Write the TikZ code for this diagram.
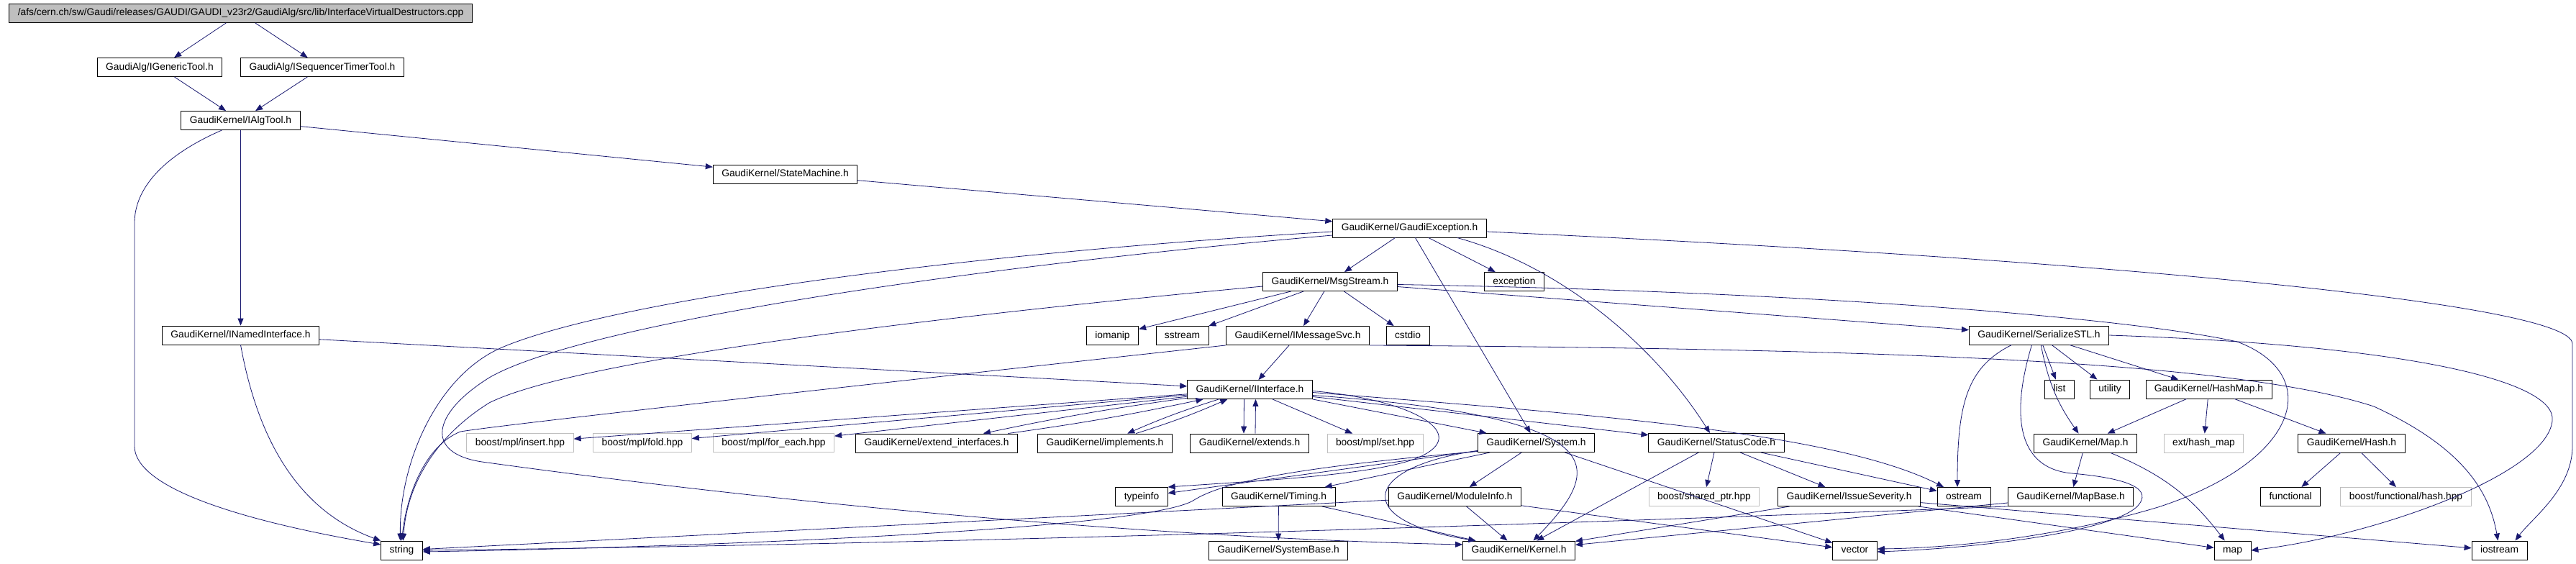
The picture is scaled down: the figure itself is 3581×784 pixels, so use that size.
\documentclass[tikz,border=0pt]{standalone}
\usepackage{fontspec}
\setmainfont{Liberation Sans}
\usetikzlibrary{arrows.meta}
\definecolor{edgeblue}{HTML}{191970}
\definecolor{rootgray}{HTML}{BFBFBF}
\definecolor{extgray}{HTML}{BFBFBF}
\begin{document}
\begin{tikzpicture}[x=1pt,y=-1pt]
        \tikzstyle{file} = [rectangle, draw=black, fill=white, line width=.9pt, inner xsep=12pt, inner ysep=0pt, minimum height=26pt, text=black, text centered, font=\fontsize{13.8}{16}\selectfont, text height=10pt, text depth=3pt]
        \tikzstyle{sys} = [file, draw=extgray]
        \tikzstyle{line} = [-{Triangle[length=10pt,width=8pt]}, draw=edgeblue, line width=.8pt]
        \path[use as bounding box, fill=white] (0,0) rectangle (3581,784);
        % top of the include tree
        \node[file,fill=rootgray] (root) at (334.5,18.5) {/afs/cern.ch/sw/Gaudi/releases/GAUDI/GAUDI\_v23r2/GaudiAlg/src/lib/InterfaceVirtualDestructors.cpp};
        \node[file] (generictool) at (222,93.5) {GaudiAlg/IGenericTool.h};
        \node[file] (seqtimer) at (448,93.5) {GaudiAlg/ISequencerTimerTool.h};
        \node[file] (ialgtool) at (334.5,167.5) {GaudiKernel/IAlgTool.h};
        \node[file] (statemachine) at (1091.5,242) {GaudiKernel/StateMachine.h};
        \node[file] (gaudiexc) at (1959.5,317) {GaudiKernel/GaudiException.h};
        \node[file] (msgstream) at (1849,391.5) {GaudiKernel/MsgStream.h};
        \node[file] (exception) at (2105,391.5) {exception};
        \node[file] (namedif) at (334.5,466) {GaudiKernel/INamedInterface.h};
        \node[file] (iomanip) at (1546.5,466.5) {iomanip};
        \node[file] (sstream) at (1643.5,466.5) {sstream};
        \node[file] (imsgsvc) at (1804,466.5) {GaudiKernel/IMessageSvc.h};
        \node[file] (cstdio) at (1957,466.5) {cstdio};
        \node[file] (serialize) at (2834.5,466) {GaudiKernel/SerializeSTL.h};
        \node[file] (iinterface) at (1737.5,541.5) {GaudiKernel/IInterface.h};
        \node[file] (list) at (2863,541) {list};
        \node[file] (utility) at (2933,541) {utility};
        \node[file] (hashmap) at (3070.5,541) {GaudiKernel/HashMap.h};
        % row with the boost headers
        \node[sys] (insert) at (723,615.5) {boost/mpl/insert.hpp};
        \node[sys] (fold) at (893,615.5) {boost/mpl/fold.hpp};
        \node[sys] (foreach) at (1075.5,615.5) {boost/mpl/for\_each.hpp};
        \node[file] (extendif) at (1302,616) {GaudiKernel/extend\_interfaces.h};
        \node[file] (implements) at (1536,616) {GaudiKernel/implements.h};
        \node[file] (extends) at (1737,616) {GaudiKernel/extends.h};
        \node[sys] (mplset) at (1911.5,616) {boost/mpl/set.hpp};
        \node[file] (system) at (2135.5,615.5) {GaudiKernel/System.h};
        \node[file] (statuscode) at (2386,615.5) {GaudiKernel/StatusCode.h};
        \node[file] (gkmap) at (2899,616) {GaudiKernel/Map.h};
        \node[sys] (hashmapext) at (3063.5,616) {ext/hash\_map};
        \node[file] (hash) at (3269,616) {GaudiKernel/Hash.h};
        \node[file] (typeinfo) at (1587,690.5) {typeinfo};
        \node[file] (timing) at (1777.5,690.5) {GaudiKernel/Timing.h};
        \node[file] (moduleinfo) at (2022.5,690.5) {GaudiKernel/ModuleInfo.h};
        \node[sys] (sharedptr) at (2369,690.5) {boost/shared\_ptr.hpp};
        \node[file] (severity) at (2570.5,690.5) {GaudiKernel/IssueSeverity.h};
        \node[file] (ostream) at (2730,690.5) {ostream};
        \node[file] (mapbase) at (2878.5,690.5) {GaudiKernel/MapBase.h};
        \node[file] (functional) at (3184,690.5) {functional};
        \node[sys] (boosthash) at (3344.5,690.5) {boost/functional/hash.hpp};
        % bottom row
        \node[file] (str) at (558.5,765) {string};
        \node[file] (systembase) at (1777,765) {GaudiKernel/SystemBase.h};
        \node[file] (kernel) at (2111.5,765) {GaudiKernel/Kernel.h};
        \node[file] (vector) at (2578.5,765) {vector};
        \node[file] (stdmap) at (3103.5,765) {map};
        \node[file] (iostream) at (3474.5,765) {iostream};
        % includes
        \draw[line] (root) to (generictool);
        \draw[line] (root) to (seqtimer);
        \draw[line] (generictool) to (ialgtool);
        \draw[line] (seqtimer) to (ialgtool);
        \draw[line] (ialgtool) to (statemachine);
        \draw[line] (ialgtool) to (namedif);
        \draw[line] ([xshift=-26pt]ialgtool.south) .. controls (230,215) and (187,260) .. (187,310) -- (187,620) .. controls (187,690) and (400,735) .. ([yshift=8pt]str.west);
        \draw[line] (namedif) to (iinterface);
        \draw[line] (namedif.south) .. controls (360,620) and (420,712) .. (str.north west);
        \draw[line] (statemachine) to (gaudiexc);
        \draw[line] (gaudiexc) to (msgstream);
        \draw[line] (gaudiexc) to (exception);
        \draw[line] (gaudiexc) to (system);
        \draw[line] ([xshift=66pt]gaudiexc.south) .. controls (2170,370) and (2300,480) .. ([xshift=-9pt]statuscode.north);
        \draw[line] ([yshift=-5pt]gaudiexc.west) .. controls (1300,355) and (850,420) .. (700,482) .. controls (610,519) and (555,640) .. ([xshift=-2pt]str.north);
        \draw[line] ([yshift=-10pt]gaudiexc.west) .. controls (1300,375) and (800,455) .. (680,525) .. controls (600,575) and (590,630) .. (670,642) .. controls (1200,715) and (1700,750) .. ([yshift=8pt]kernel.west);
        \draw[line] ([yshift=-5pt]gaudiexc.east) .. controls (2900,360) and (3576,420) .. (3576,478) -- (3576,620) .. controls (3576,680) and (3520,720) .. ([xshift=22pt]iostream.north);
        \draw[line] (msgstream) to (iomanip);
        \draw[line] (msgstream) to (sstream);
        \draw[line] (msgstream) to (imsgsvc);
        \draw[line] (msgstream) to (cstdio);
        \draw[line] (msgstream) to (serialize);
        \draw[line] ([yshift=-4pt]msgstream.east) .. controls (2500,405) and (2950,440) .. (3110,475) .. controls (3230,520) and (3200,640) .. (3000,705) .. controls (2850,750) and (2700,762) .. ([yshift=2pt]vector.east);
        \draw[line] ([yshift=-6.5pt]msgstream.west) .. controls (1300,440) and (800,500) .. (680,560) .. controls (600,610) and (565,680) .. ([xshift=2pt]str.north);
        \draw[line] (imsgsvc) to (iinterface);
        \draw[line] (imsgsvc.south west) .. controls (1200,535) and (700,590) .. (640,600) .. controls (590,620) and (565,690) .. (str.north);
        \draw[line] (imsgsvc.south east) .. controls (2600,485) and (3100,500) .. (3300,565) .. controls (3420,620) and (3460,680) .. ([xshift=-2pt]iostream.north);
        \draw[line] (iinterface) to (insert);
        \draw[line] (iinterface) to (fold);
        \draw[line] (iinterface) to (foreach);
        \draw[line] (iinterface) to[bend right=2] (extendif);
        \draw[line] (extendif) to[bend right=2] (iinterface);
        \draw[line] (iinterface) to[bend right=3] (implements);
        \draw[line] (implements) to[bend right=3] (iinterface);
        \draw[line] ([xshift=-8pt]iinterface.south) to ([xshift=-8pt]extends.north);
        \draw[line] ([xshift=8pt]extends.north) to ([xshift=8pt]iinterface.south);
        \draw[line] (iinterface) to (mplset);
        \draw[line] (iinterface.south east) to (system);
        \draw[line] (iinterface) to (statuscode);
        \draw[line] ([yshift=-4pt]iinterface.east) .. controls (2200,575) and (2550,600) .. ([xshift=-28pt]ostream.north);
        \draw[line] ([yshift=-2pt]iinterface.east) .. controls (1960,555) and (2040,600) .. (1980,632) .. controls (1930,660) and (1750,668) .. (typeinfo.north east);
        \draw[line] ([yshift=-8pt]iinterface.east) .. controls (2250,580) and (2230,650) .. ([xshift=20pt]kernel.north);
        \draw[line] (system) to (moduleinfo);
        \draw[line] ([yshift=-11pt]system.west) .. controls (1890,650) and (1880,725) .. ([xshift=-60pt]kernel.north);
        \draw[line] (system) to (vector);
        \draw[line] (system) to (typeinfo);
        \draw[line] (system) to (timing);
        \draw[line] ([yshift=-12pt]system.west) .. controls (1800,650) and (1700,670) .. (1660,695) .. controls (1600,735) and (1000,760) .. ([yshift=-2pt]str.east);
        \draw[line] (moduleinfo) to (kernel);
        \draw[line] (moduleinfo) to (vector);
        \draw[line] (moduleinfo) to (str);
        \draw[line] (timing) to (systembase);
        \draw[line] (timing) to (kernel);
        \draw[line] (statuscode) to (kernel);
        \draw[line] (statuscode) to (sharedptr);
        \draw[line] (statuscode) to (severity);
        \draw[line] (statuscode) to (ostream);
        \draw[line] (severity) to (kernel);
        \draw[line] (severity) to (stdmap);
        \draw[line] (severity) to (iostream);
        \draw[line] (serialize) to (list);
        \draw[line] (serialize) to (utility);
        \draw[line] (serialize) to (hashmap);
        \draw[line] (serialize) to[bend right=12] (gkmap);
        \draw[line] ([xshift=-38pt]serialize.south) .. controls (2735,510) and (2721,560) .. ([xshift=-9pt]ostream.north);
        \draw[line] ([xshift=-10pt]serialize.south) .. controls (2800,560) and (2795,650) .. (2880,658) .. controls (2960,665) and (2995,680) .. (2970,705) .. controls (2930,740) and (2750,762) .. ([yshift=-2pt]vector.east);
        \draw[line] (serialize.east) .. controls (3350,480) and (3555,530) .. (3548,585) .. controls (3540,660) and (3300,745) .. (stdmap.east);
        \draw[line] (hashmap) to (gkmap);
        \draw[line] (hashmap) to (hashmapext);
        \draw[line] (hashmap) to (hash);
        \draw[line] (gkmap) to (mapbase);
        \draw[line] (gkmap) to[bend left=15] (stdmap);
        \draw[line] (hash) to (functional);
        \draw[line] (hash) to (boosthash);
        \draw[line] (mapbase) to (kernel);
        \draw[line] (mapbase.south west) .. controls (2000,735) and (1200,758) .. (str.east);
\end{tikzpicture}
\end{document}
